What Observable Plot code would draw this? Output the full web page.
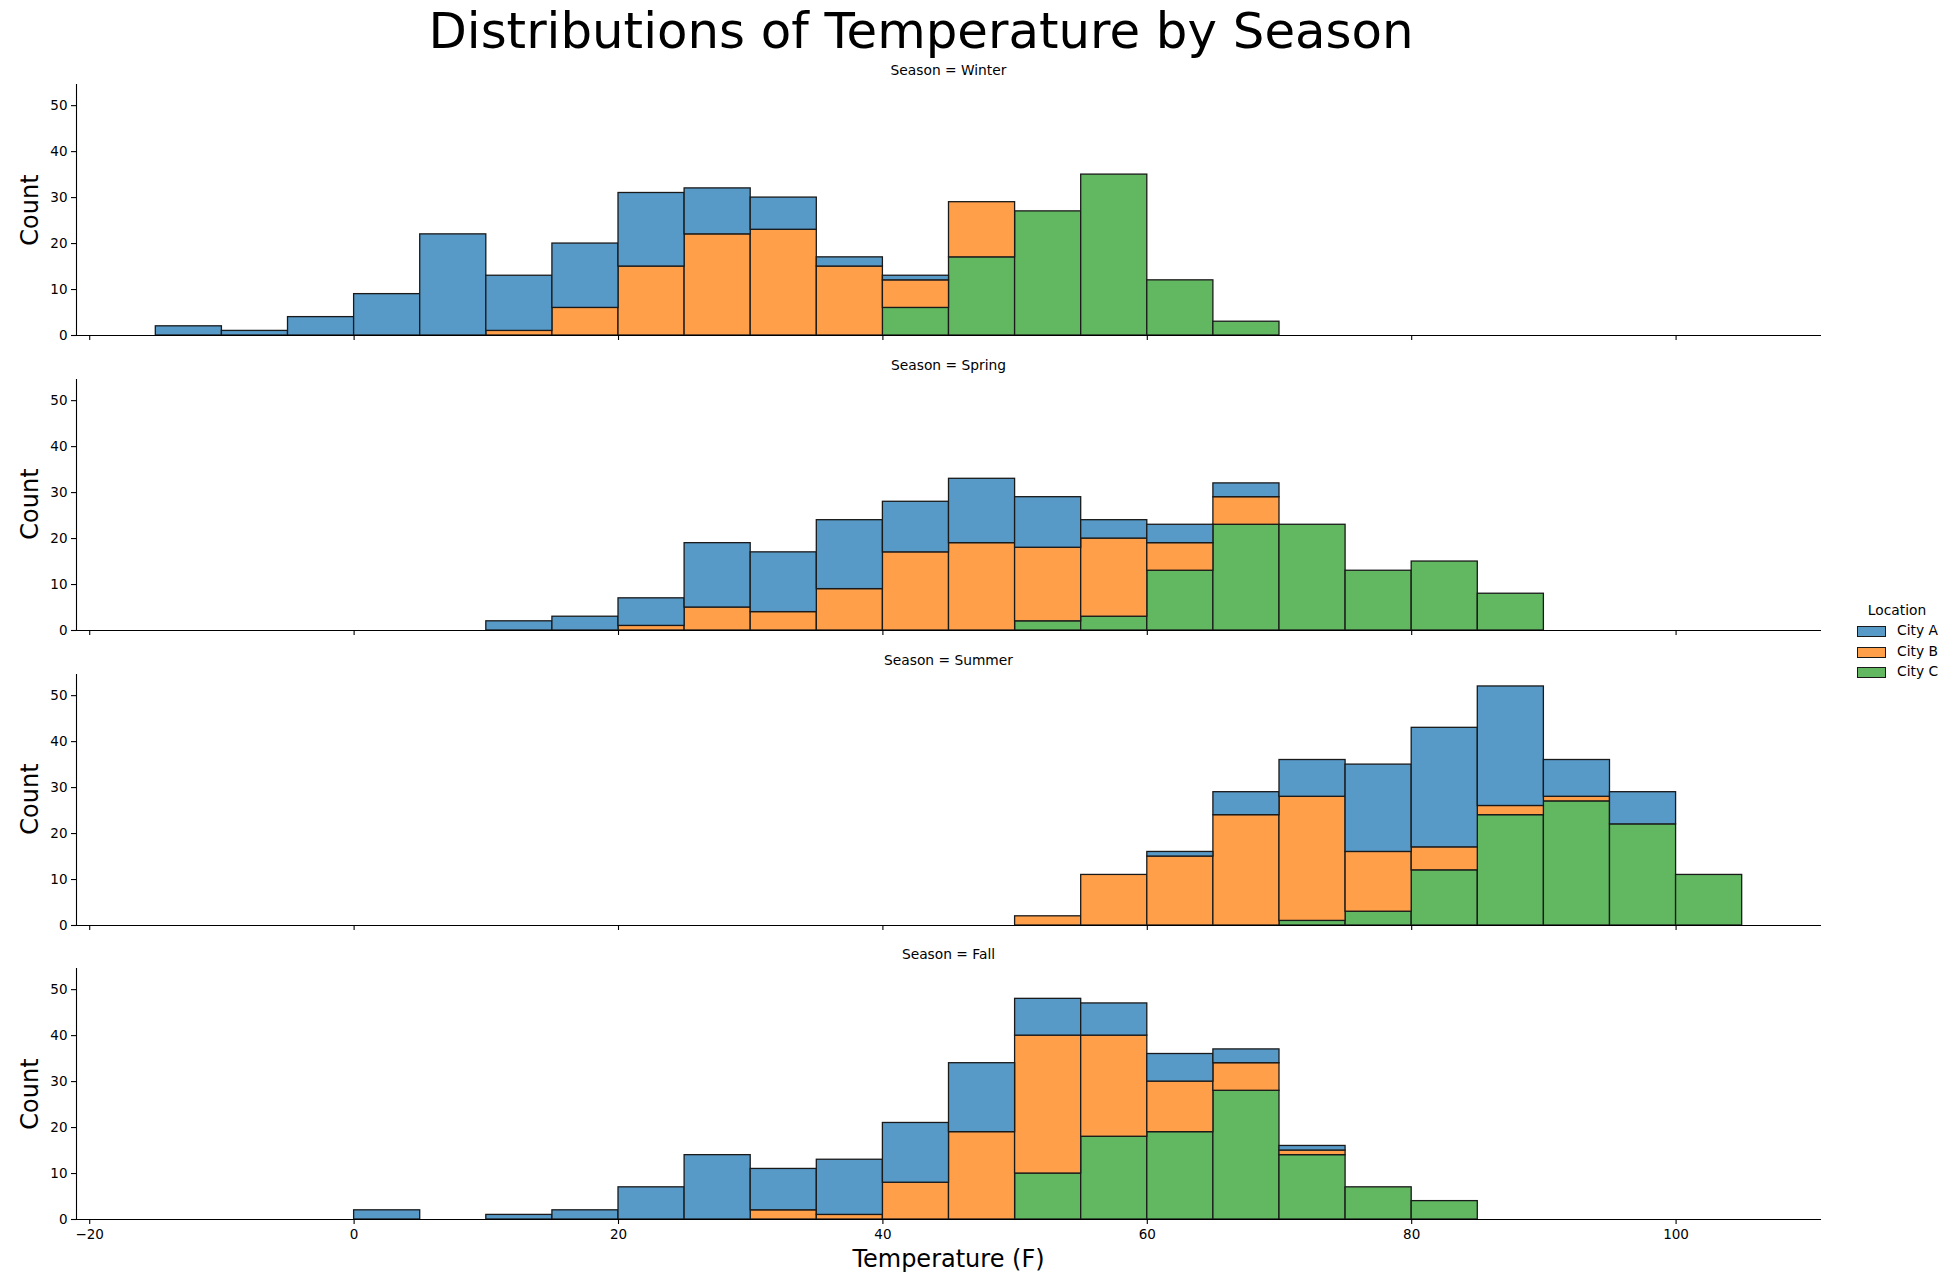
<!DOCTYPE html>
<html><head><meta charset="utf-8">
<script src="https://cdn.jsdelivr.net/npm/d3@7"></script>
<script src="https://cdn.jsdelivr.net/npm/@observablehq/plot@0.6"></script>
<style>
body{margin:0;background:#fff;font-family:"DejaVu Sans",sans-serif;}
#root{position:relative;width:1958px;height:1284px;overflow:hidden;background:#fff;}
.abs{position:absolute;white-space:nowrap;color:#000;line-height:1;}
.plotwrap{position:absolute;left:0;}
</style></head><body><div id="root"></div>
<script>
// ---- data ----
const binStarts = [-15,-10,-5,0,5,10,15,20,25,30,35,40,45,50,55,60,65,70,75,80,85,90,95,100];
const binWidth = 5;
const seasons = ["Winter","Spring","Summer","Fall"];
const cities = ["City A","City B","City C"];
const yTicks = [0,10,20,30,40,50];
const xTicks = [-20,0,20,40,60,80,100];

const winterA = [2,1,4,9,22,12,14,16,10,7,2,1,0,0,0,0,0,0,0,0,0,0,0,0];
const winterB = [0,0,0,0,0,1,6,15,22,23,15,6,12,0,0,0,0,0,0,0,0,0,0,0];
const winterC = [0,0,0,0,0,0,0,0,0,0,0,6,17,27,35,12,3,0,0,0,0,0,0,0];

const springA = [0,0,0,0,0,2,3,6,14,13,15,11,14,11,4,4,3,0,0,0,0,0,0,0];
const springB = [0,0,0,0,0,0,0,1,5,4,9,17,19,16,17,6,6,0,0,0,0,0,0,0];
const springC = [0,0,0,0,0,0,0,0,0,0,0,0,0,2,3,13,23,23,13,15,8,0,0,0];

const summerA = [0,0,0,0,0,0,0,0,0,0,0,0,0,0,0,1,5,8,19,26,26,8,7,0];
const summerB = [0,0,0,0,0,0,0,0,0,0,0,0,0,2,11,15,24,27,13,5,2,1,0,0];
const summerC = [0,0,0,0,0,0,0,0,0,0,0,0,0,0,0,0,0,1,3,12,24,27,22,11];

const fallA = [0,0,0,2,0,1,2,7,14,9,12,13,15,8,7,6,3,1,0,0,0,0,0,0];
const fallB = [0,0,0,0,0,0,0,0,0,2,1,8,19,30,22,11,6,1,0,0,0,0,0,0];
const fallC = [0,0,0,0,0,0,0,0,0,0,0,0,0,10,18,19,28,14,7,4,0,0,0,0];

const seasonCounts = {
  Winter: [winterA, winterB, winterC],
  Spring: [springA, springB, springC],
  Summer: [summerA, summerB, summerC],
  Fall:   [fallA, fallB, fallC]
};

// ---- style / layout ----
const cityColors = ["#5799c7","#ff9f4a","#61b861"];
const FONT = '"DejaVu Sans", sans-serif';
const panelTops = [84, 378.5, 673.5, 968];
const panelH = 251;
const mTop = 5, mBottom = 40, mLeft = 76, plotW = 1830, mRight = 9;

const root = document.getElementById("root");
function addText(txt, x, y, size, extra = {}) {
  const d = document.createElement("div");
  d.className = "abs";
  d.textContent = txt;
  d.style.fontSize = size + "px";
  d.style.fontFamily = FONT;
  d.style.left = x + "px";
  d.style.top = y + "px";
  d.style.transform = extra.transform || "translate(-50%, -50%)";
  if (extra.weight) d.style.fontWeight = extra.weight;
  root.appendChild(d);
  return d;
}

const fmt = d => d < 0 ? "\u2212" + (-d) : String(d);

seasons.forEach((season, si) => {
  const rows = [];
  // order: City C at bottom, then City B, then City A on top
  [2, 1, 0].forEach(ci => {
    seasonCounts[season][ci].forEach((c, bi) => {
      if (c > 0) rows.push({city: cities[ci], x1: binStarts[bi], x2: binStarts[bi] + binWidth, count: c});
    });
  });
  const isBottom = si === seasons.length - 1;
  const chart = Plot.plot({
    width: plotW,
    height: mTop + panelH + mBottom,
    marginLeft: mLeft, marginRight: mRight, marginTop: mTop, marginBottom: mBottom,
    x: {domain: [-21, 111]},
    y: {domain: [0, 54.6]},
    color: {domain: cities, range: cityColors},
    style: {background: "transparent", fontFamily: FONT, fontSize: "13.5px", color: "#000", overflow: "visible"},
    marks: [
      Plot.rectY(rows, {x1: "x1", x2: "x2", y: "count", fill: "city", stroke: "#1a1a1a", strokeWidth: 1.3}),
      Plot.ruleX([-21], {stroke: "#000", strokeWidth: 1.1}),
      Plot.ruleY([0], {stroke: "#000", strokeWidth: 1.1}),
      Plot.axisY({ticks: yTicks, tickSize: 5, tickPadding: 4, label: null, tickFormat: fmt, stroke: "#000", strokeWidth: 1.1}),
      Plot.axisX({ticks: xTicks, tickSize: 5, tickPadding: 5, label: null,
                  tickFormat: isBottom ? fmt : () => "", stroke: "#000", strokeWidth: 1.1})
    ]
  });
  const wrap = document.createElement("div");
  wrap.className = "plotwrap";
  wrap.style.top = (panelTops[si] - mTop) + "px";
  wrap.appendChild(chart);
  root.appendChild(wrap);
});

// texts
addText("Distributions of Temperature by Season", 921, 32, 49.8);
seasons.forEach((season, si) => {
  addText("Season = " + season, 948.5, panelTops[si] - 13, 13.8);
  addText("Count", 30, panelTops[si] + panelH / 2, 24, {transform: "translate(-50%, -50%) rotate(-90deg)"});
});
addText("Temperature (F)", 948.5, 1259, 24);

// legend
addText("Location", 1897, 611, 13.8);
cities.forEach((c, i) => {
  const y = 631 + i * 20.5;
  const sw = document.createElement("div");
  sw.style.position = "absolute";
  sw.style.left = "1857px";
  sw.style.top = (y - 5) + "px";
  sw.style.width = "27px";
  sw.style.height = "9px";
  sw.style.background = cityColors[i];
  sw.style.border = "1px solid #1a1a1a";
  root.appendChild(sw);
  addText(c, 1897, y, 13.8, {transform: "translate(0, -50%)"});
});
</script>
</body></html>
